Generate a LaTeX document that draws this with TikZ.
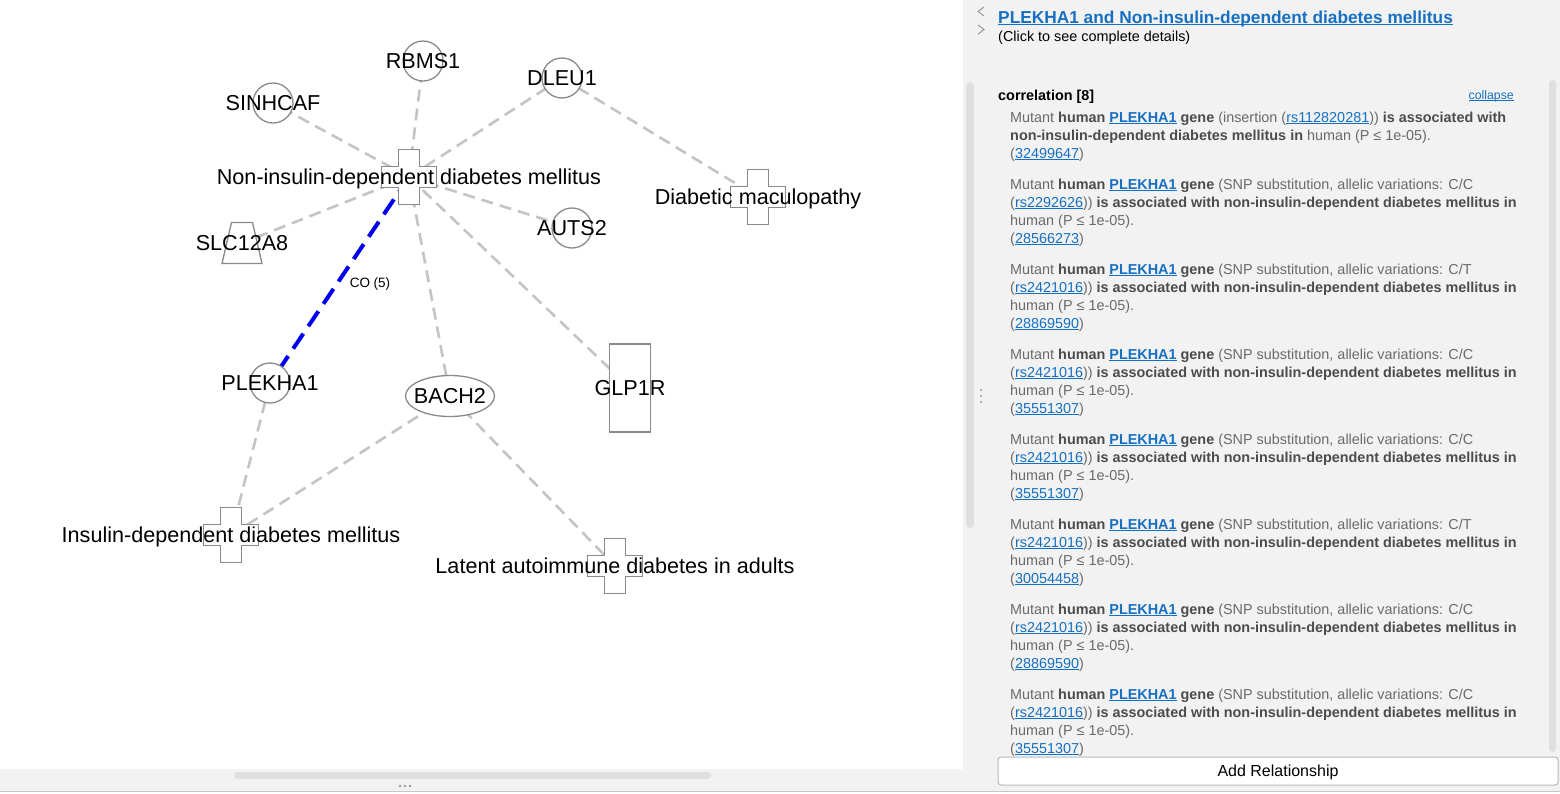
\documentclass[tikz,border=0pt]{standalone}
\usepackage{fontspec}
\setmainfont{Liberation Sans}
\usetikzlibrary{shapes.geometric,calc}
\definecolor{edgegray}{HTML}{C4C4C4}
\definecolor{shapegray}{HTML}{8A8A8A}
\definecolor{cobalt}{RGB}{0,0,238}
\definecolor{panelbg}{HTML}{F2F2F2}
\definecolor{bodygray}{HTML}{6A6A6A}
\definecolor{boldgray}{HTML}{4C4C4C}
\definecolor{linkblue}{HTML}{1670C2}
\definecolor{barbg}{HTML}{DFDFDF}
\definecolor{dotgray}{HTML}{9A9A9A}
\pgfdeclarelayer{bglayer}
\pgfdeclarelayer{edgelayer}
\pgfsetlayers{bglayer,edgelayer,main}
\newcommand{\dfont}{\fontsize{21.6}{26}\selectfont}
\newcommand{\pfont}{\fontsize{14.4}{18}\selectfont}
\newcommand{\tfont}{\fontsize{17.3}{21}\selectfont\bfseries}
\newcommand{\ulx}[3]{\setbox0\hbox{#3}\rlap{\rule[-#1pt]{\wd0}{#2pt}}\box0}
\newcommand{\lnk}[1]{\textcolor{linkblue}{\ulx{2}{1.1}{#1}}}
\newcommand{\lnkb}[1]{\textcolor{linkblue}{\bfseries\ulx{2}{1.2}{#1}}}
\newcommand{\B}[1]{{\bfseries\color{boldgray}#1}}
\newcommand{\crossat}[1]{\draw[outline] ($(#1.center)+(-10.5,-27.5)$) -- ++(21,0) -- ++(0,17) -- ++(17,0) -- ++(0,21) -- ++(-17,0) -- ++(0,17) -- ++(-21,0) -- ++(0,-17) -- ++(-17,0) -- ++(0,-21) -- ++(17,0) -- cycle;}
\tikzset{
  gene/.style={circle, draw=shapegray, line width=1.3, fill=white, minimum size=40, inner sep=0},
  frame/.style={rectangle, inner sep=0, outer sep=0, minimum width=55, minimum height=55},
  outline/.style={draw=shapegray, line width=1.3, fill=white},
  lbl/.style={font=\dfont, text=black, inner sep=0, text height=15.5, text depth=0},
  rel/.style={draw=edgegray, line width=2.6, dash pattern=on 12 off 7},
  corel/.style={draw=cobalt, line width=4, dash pattern=on 18 off 9},
  ptext/.style={anchor=base west, inner sep=0, font=\pfont, text=bodygray},
  chev/.style={draw=dotgray, line width=1},
}
\begin{document}
\begin{tikzpicture}[x=1pt,y=-1pt]
\useasboundingbox (0,0) rectangle (1560,793);
\begin{pgfonlayer}{bglayer}
  \fill[white] (0,0) rectangle (1560,793);
  \fill[panelbg] (963,0) rectangle (1560,791);
  \fill[panelbg] (0,769) rectangle (963,791);
  \draw[gray!45, line width=1] (0,791.5) -- (1560,791.5);
  \fill[barbg, rounded corners=3.5] (234,772) rectangle (711,779);
  \foreach \dx in {400,405,410} \fill[dotgray] (\dx,786) circle (1.3);
  \fill[barbg, rounded corners=4] (966,82) rectangle (974,528);
  \foreach \dy in {390,396,402} \fill[dotgray] (981,\dy) circle (1.2);
  \fill[barbg, rounded corners=3.5] (1549,80) rectangle (1556,752);
\end{pgfonlayer}

% diagram shapes
\node[gene] (sinhcaf) at (273,103) {};
\node[gene] (rbms1) at (423,61) {};
\node[gene] (dleu1) at (562,78) {};
\node[gene] (auts2) at (572,228) {};
\node[gene] (plekha1) at (270,383) {};
\node[ellipse, draw=shapegray, line width=1.3, fill=white, minimum width=89, minimum height=41, inner sep=0] (bach2) at (450,396) {};
\node[rectangle, draw=shapegray, line width=1.3, fill=white, minimum width=41, minimum height=88, inner sep=0] (glp1r) at (630,388) {};
\node[frame] (niddm) at (409,177) {};
\node[frame] (dmac) at (758,197) {};
\node[frame] (iddm) at (231,535) {};
\node[frame] (lada) at (615,566) {};
\node[rectangle, inner sep=0, minimum width=40, minimum height=41] (slc) at (242,243) {};
\crossat{niddm}
\crossat{dmac}
\crossat{iddm}
\crossat{lada}
\draw[outline] ($(slc.center)+(-10.5,-20.5)$) -- ++(21,0) -- ++(9.5,41) -- ++(-40,0) -- cycle;

% connectors
\begin{pgfonlayer}{edgelayer}
  \draw[rel] (niddm.center) -- (sinhcaf.center);
  \draw[rel] (niddm.center) -- (rbms1.center);
  \draw[rel] (niddm.center) -- (dleu1.center);
  \draw[rel] (niddm.center) -- (slc.center);
  \draw[rel] (niddm.center) -- (auts2.center);
  \draw[rel] (niddm.center) -- (bach2.center);
  \draw[rel] (niddm.center) -- (glp1r.center);
  \draw[rel] (dleu1.center) -- (dmac.center);
  \draw[rel] (plekha1.center) -- (iddm.center);
  \draw[rel] (bach2.center) -- (iddm.center);
  \draw[rel] (bach2.center) -- (lada.center);
  \draw[corel] (niddm.center) -- (plekha1.center);
\end{pgfonlayer}
\node[font=\fontsize{13.5}{16}\selectfont, inner sep=0] (colabel) at (370,284) {CO (5)};

% labels
\node[lbl] (sinhcafL) at (sinhcaf.center) {SINHCAF};
\node[lbl] (rbms1L) at (rbms1.center) {RBMS1};
\node[lbl] (dleu1L) at (dleu1.center) {DLEU1};
\node[lbl] (auts2L) at (auts2.center) {AUTS2};
\node[lbl] (plekha1L) at (plekha1.center) {PLEKHA1};
\node[lbl] (bach2L) at (bach2.center) {BACH2};
\node[lbl] (glp1rL) at (glp1r.center) {GLP1R};
\node[lbl] (slcL) at (slc.center) {SLC12A8};
\node[lbl] (niddmL) at (niddm.center) {Non-insulin-dependent diabetes mellitus};
\node[lbl] (dmacL) at (dmac.center) {Diabetic maculopathy};
\node[lbl] (iddmL) at (iddm.center) {Insulin-dependent diabetes mellitus};
\node[lbl] (ladaL) at (lada.center) {Latent autoimmune diabetes in adults};

% right panel
\draw[chev] (984,7) -- (978,11.5) -- (984,16);
\draw[chev] (978,25) -- (984,29.5) -- (978,34);
\node[anchor=base west, inner sep=0, font=\tfont, text=linkblue] (title) at (998,23) {\ulx{2.3}{1.4}{PLEKHA1 and Non-insulin-dependent diabetes mellitus}};
\node[anchor=base west, inner sep=0, font=\pfont, text=black] (click) at (998,41) {(Click to see complete details)};
\node[anchor=base west, inner sep=0, font=\pfont\bfseries, text=black] (corr) at (998,100) {correlation [8]};
\node[anchor=base east, inner sep=0, font=\fontsize{12.3}{14}\selectfont] (collapse) at (1514,99) {\lnk{collapse}};

\node[ptext] (e1-a) at (1010,122) {Mutant \B{human} \lnkb{PLEKHA1} \B{gene} (insertion (\lnk{rs112820281})) \B{is associated with}};
\node[ptext] (e1-b) at (1010,140) {\B{non-insulin-dependent diabetes mellitus in} human (P ≤ 1e-05).};
\node[ptext] (e1-c) at (1010,158) {(\lnk{32499647})};
\foreach \i/\al/\rs/\pmid in {2/C/2292626/28566273, 3/T/2421016/28869590, 4/C/2421016/35551307, 5/C/2421016/35551307, 6/T/2421016/30054458, 7/C/2421016/28869590, 8/C/2421016/35551307}{
  \pgfmathsetmacro{\yb}{189+85*(\i-2)}
  \node[ptext] (e\i-a) at (1010,\yb) {Mutant \B{human} \lnkb{PLEKHA1} \B{gene} (SNP substitution, allelic variations: C/\al};
  \node[ptext] (e\i-b) at (1010,\yb+18) {(\lnk{rs\rs})) \B{is associated with non-insulin-dependent diabetes mellitus in}};
  \node[ptext] (e\i-c) at (1010,\yb+36) {human (P ≤ 1e-05).};
  \node[ptext] (e\i-d) at (1010,\yb+54) {(\lnk{\pmid})};
}
\node[draw=gray!55, line width=1, fill=white, rounded corners=3, minimum width=560, minimum height=28, inner sep=0, font=\fontsize{16}{19}\selectfont, text height=11.5, text depth=0] (addrel) at (1278,771) {Add Relationship};
\end{tikzpicture}
\end{document}
